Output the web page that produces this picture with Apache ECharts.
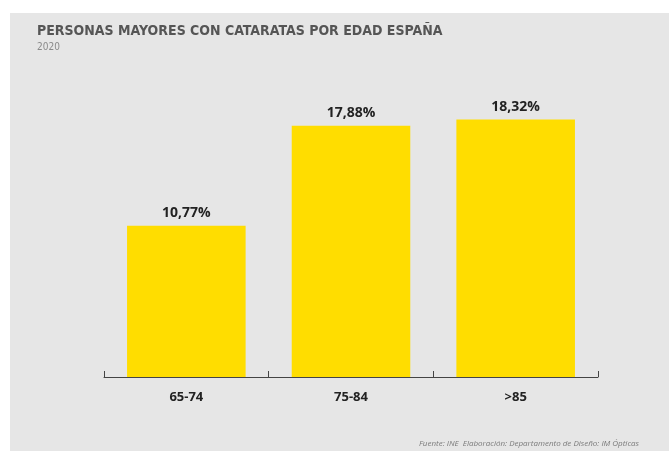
<!DOCTYPE html>
<html>
<head>
<meta charset="utf-8">
<script src="https://cdn.jsdelivr.net/npm/echarts@6/dist/echarts.min.js"></script>
<style>
html,body{margin:0;padding:0;background:#ffffff;}
#chart{width:669px;height:451px;}
</style>
</head>
<body>
<div id="chart"></div>
<script>
const categories = ['65-74', '75-84', '>85'];
const values = [10.77, 17.88, 18.32];
const titleText = 'PERSONAS MAYORES CON CATARATAS POR EDAD ESPAÑA';
const subtitleText = '2020';
const sourceText = 'Fuente: INE  Elaboración: Departamento de Diseño: IM Ópticas';

const chart = echarts.init(document.getElementById('chart'));
chart.setOption({
  backgroundColor: '#ffffff',
  animation: false,
  graphic: [
    { type: 'rect', z: -10, silent: true, shape: { x: 10, y: 13, width: 659, height: 438 }, style: { fill: '#e6e6e6' } },
    { type: 'text', x: 37, y: 31, style: { text: titleText, font: 'bold 14px "DejaVu Sans Condensed", "Liberation Sans Narrow", sans-serif', fill: '#555555', verticalAlign: 'middle' } },
    { type: 'text', x: 37, y: 47, style: { text: subtitleText, font: '10px "DejaVu Sans Condensed", sans-serif', fill: '#8a8a8a', verticalAlign: 'middle' } },
    { type: 'text', x: 419, y: 444, style: { text: sourceText, font: 'italic 8px "Open Sans", "Noto Sans", sans-serif', fill: '#7a7a7a', verticalAlign: 'middle' } }
  ],
  grid: { left: 104, right: 71, top: 96, bottom: 74 },
  xAxis: {
    type: 'category',
    data: categories,
    axisLine: { lineStyle: { color: '#444444', width: 1 } },
    axisTick: { show: true, inside: true, length: 6, lineStyle: { color: '#444444' } },
    axisLabel: { margin: 14, color: '#222222', fontWeight: 'bold', fontSize: 13, fontFamily: '"Open Sans", "Noto Sans", sans-serif' }
  },
  yAxis: {
    type: 'value', min: 0, max: 20, show: false
  },
  series: [{
    type: 'bar',
    data: values,
    barWidth: '72%',
    itemStyle: { color: '#ffdd00' },
    label: {
      show: true, position: 'top', distance: 6,
      formatter: p => p.value.toFixed(2).replace('.', ',') + '%',
      color: '#222222', fontWeight: 'bold', fontSize: 14, fontFamily: '"Open Sans", "Noto Sans", sans-serif'
    }
  }]
});
</script>
</body>
</html>
